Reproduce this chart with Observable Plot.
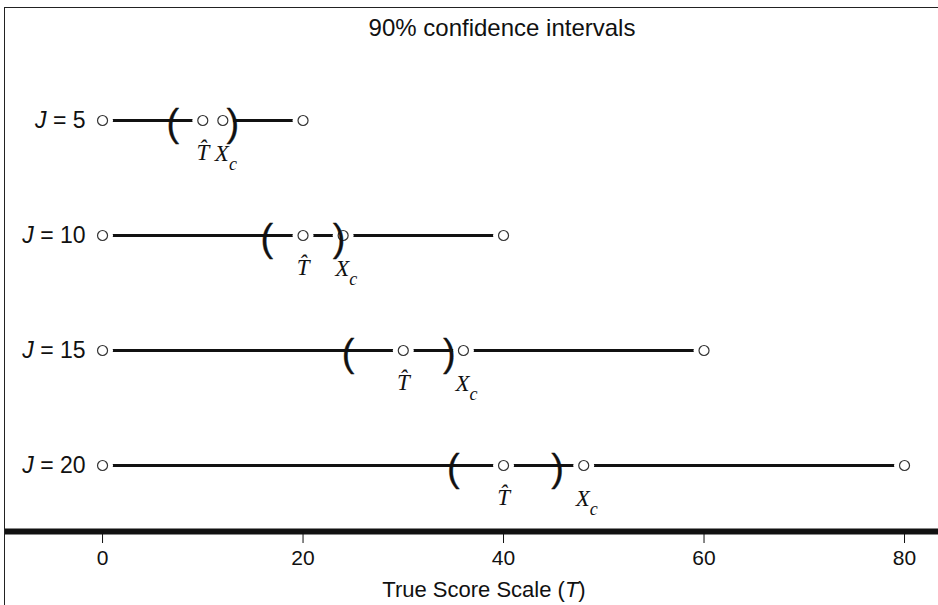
<!DOCTYPE html>
<html><head><meta charset="utf-8">
<script src="https://cdn.jsdelivr.net/npm/d3@7"></script>
<script src="https://cdn.jsdelivr.net/npm/@observablehq/plot@0.6"></script>
<style>
html,body{margin:0;padding:0;background:#fff;}
#wrap{position:absolute;left:4px;top:7px;width:934px;height:598px;border-left:1px solid #222;border-top:1px solid #222;box-sizing:border-box;overflow:hidden;}
#wrap svg{display:block;}
</style></head><body><div id="wrap"></div>
<script>
// ---- data ----
const J        = [5, 10, 15, 20];
const lowScore = [0, 0, 0, 0];
const maxScore = [20, 40, 60, 80];
const tHat     = [10, 20, 30, 40];
const xC       = [12, 24, 36, 48];
const ciLow    = [7.0, 16.4, 24.5, 35.0];
const ciHigh   = [13.0, 23.6, 34.6, 45.4];
const xTicks   = [0, 20, 40, 60, 80];
const titleText = "90% confidence intervals";
const xLabel = "True Score Scale (T)";

const rows = J.map((j, i) => ({J: j, lo: lowScore[i], hi: maxScore[i], t: tHat[i], xc: xC[i], cl: ciLow[i], ch: ciHigh[i], label: `J = ${j}`}));
const pts = rows.flatMap(r => [r.lo, r.t, r.xc, r.hi].map(v => ({J: r.J, x: v})));

const sans = "'Liberation Sans', Arial, Helvetica, sans-serif";
const serif = "'Liberation Serif', 'Times New Roman', serif";

const svg = Plot.plot({
  width: 933, height: 597,
  marginLeft: 0, marginRight: 0, marginTop: 0, marginBottom: 74,
  style: {fontFamily: sans, background: "#fff", color: "#111"},
  x: {domain: [-9.68, 83.39], ticks: xTicks},
  y: {domain: [0.13, 22.87], reverse: true, axis: null},
  marks: [
    Plot.ruleY(rows, {y: "J", x1: "lo", x2: "hi", stroke: "#111", strokeWidth: 3.2}),
    Plot.dot(pts, {x: "x", y: "J", r: 10.5, fill: "#fff", stroke: "none"}),
    Plot.dot(pts, {x: "x", y: "J", r: 5, fill: "#fff", stroke: "#333", strokeWidth: 1.2}),
    Plot.text(rows, {x: "cl", y: "J", text: () => "(", fontSize: 38, dy: 3, fill: "#111", stroke: "#111", strokeWidth: 0.3}),
    Plot.text(rows, {x: "ch", y: "J", text: () => ")", fontSize: 38, dy: 3, fill: "#111", stroke: "#111", strokeWidth: 0.3}),
    Plot.text(rows, {x: "t", y: "J", text: () => "T\u0302", fontFamily: serif, fontStyle: "italic", fontSize: 23, dy: 32, fill: "#111"}),
    Plot.text(rows, {x: "xc", y: "J", text: () => "Xc", fontFamily: serif, fontStyle: "italic", fontSize: 23, textAnchor: "start", dx: -8, dy: 33, fill: "#111"}),
    Plot.text(rows, {x: "lo", y: "J", text: "label", textAnchor: "end", dx: -17, fontSize: 23, fill: "#111"}),
    Plot.ruleY([22.87], {stroke: "#111", strokeWidth: 6}),
    Plot.axisX({ticks: xTicks, tickSize: 12, tickPadding: 7, fontSize: 21, label: null, stroke: "#111"}),
    Plot.text([titleText], {frameAnchor: "top", lineAnchor: "middle", dx: 30, dy: 20, fontSize: 24, fill: "#111"}),
    Plot.text([xLabel], {frameAnchor: "bottom", lineAnchor: "middle", dx: 12, dy: 58, fontSize: 22, fill: "#111"})
  ]
});

const NS = "http://www.w3.org/2000/svg";
svg.querySelectorAll("text").forEach(t => {
  const s = t.textContent;
  let m;
  if ((m = s.match(/^J = (\d+)$/))) {
    t.textContent = "";
    const a = document.createElementNS(NS, "tspan");
    a.setAttribute("font-style", "italic");
    a.textContent = "J";
    t.appendChild(a);
    t.appendChild(document.createTextNode(" = " + m[1]));
  } else if (s === "Xc") {
    t.textContent = "X";
    const c = document.createElementNS(NS, "tspan");
    c.setAttribute("dy", "9");
    c.setAttribute("font-size", "18");
    c.textContent = "c";
    t.appendChild(c);
  } else if (s === xLabel) {
    t.textContent = "True Score Scale (";
    const a = document.createElementNS(NS, "tspan");
    a.setAttribute("font-style", "italic");
    a.textContent = "T";
    t.appendChild(a);
    t.appendChild(document.createTextNode(")"));
  }
});

document.getElementById("wrap").appendChild(svg);
</script></body></html>
